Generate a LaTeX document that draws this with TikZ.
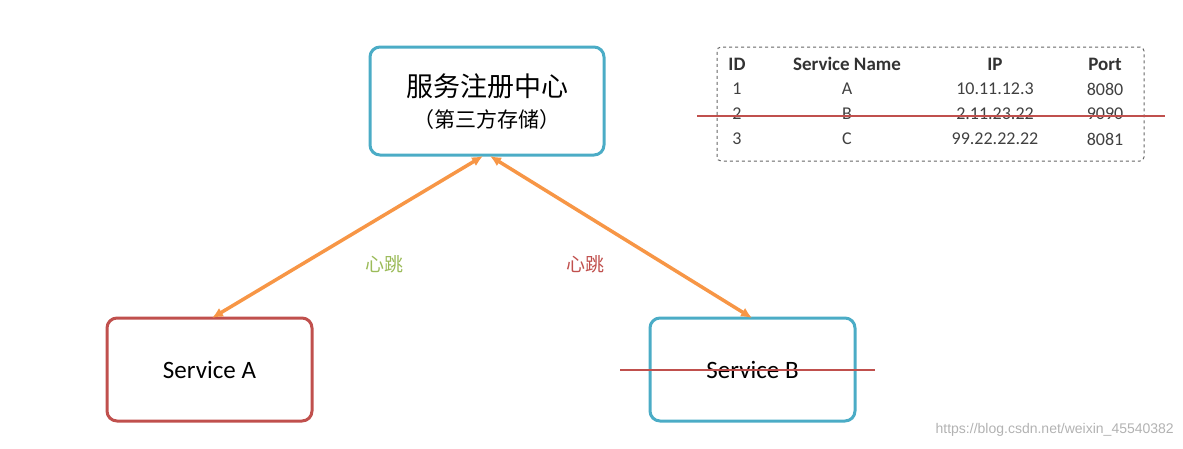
\documentclass[tikz,border=0pt]{standalone}
\usepackage{fontspec}
\setmainfont{Carlito}
\newfontfamily\cjk{Noto Sans CJK SC}
\newfontfamily\wmfont{Liberation Sans}
\usetikzlibrary{arrows.meta}
\begin{document}
\begin{tikzpicture}[x=1pt,y=-1pt,
  box/.style={draw,line width=3pt,rounded corners=10pt},
  arr/.style={line width=3.5pt,{Latex[length=11pt,width=10pt]}-{Latex[length=11pt,width=10pt]},color={rgb,255:red,247;green,150;blue,70}},
  strike/.style={draw={rgb,255:red,192;green,80;blue,77},line width=2pt},
  cell/.style={font=\fontsize{17}{18}\selectfont,text=black!75,inner sep=0pt}]
\definecolor{cy}{RGB}{75,172,198}
\definecolor{rd}{RGB}{192,80,77}
\definecolor{gr}{RGB}{155,187,89}
\useasboundingbox (0,0) rectangle (1183,448);
\node[box,draw=cy,minimum width=234pt,minimum height=108pt] (reg) at (487,101) {};
\node[font=\cjk\fontsize{27}{30}\selectfont] (t1) at (487,86) {服务注册中心};
\node[font=\cjk\fontsize{21}{24}\selectfont] (t2) at (487,120) {（第三方存储）};
\node[box,draw=rd,minimum width=205pt,minimum height=103pt] (a) at (209.5,369.5) {\fontsize{25}{28}\selectfont Service A};
\node[box,draw=cy,minimum width=205pt,minimum height=103pt] (b) at (752.5,369.5) {\fontsize{25}{28}\selectfont Service B};
\coordinate (r1) at (483,156);
\coordinate (r2) at (490,156);
\coordinate (a1) at (212,318);
\coordinate (b1) at (752,318);
\draw[arr] (r1) -- (a1);
\draw[arr] (r2) -- (b1);
\node[text=gr,font=\cjk\fontsize{19}{22}\selectfont] (l1) at (384,264) {心跳};
\node[text=rd,font=\cjk\fontsize{19}{22}\selectfont] (l2) at (585,264) {心跳};
\coordinate (sb1) at (620,370); \coordinate (sb2) at (875,370);
\draw[strike] (sb1) -- (sb2);
\node[draw=black!60,dashed,rounded corners=4pt,minimum width=427pt,minimum height=114pt,line width=1pt] (tab) at (930.5,104) {};
\foreach \x/\a/\b/\c/\d [count=\i] in {737/ID/1/2/3, 847/Service Name/A/B/C, 995/IP/10.11.12.3/2.11.23.22/99.22.22.22, 1105/Port/8080/9090/8081}{
  \node[cell,font=\bfseries\fontsize{19}{19}\selectfont,text=black!80] (h\i) at (\x,64) {\a};
  \node[cell,font=\fontsize{18}{18}\selectfont] (c1\i) at (\x,89) {\b};
  \node[cell,font=\fontsize{18}{18}\selectfont] (c2\i) at (\x,114) {\c};
  \node[cell,font=\fontsize{18}{18}\selectfont] (c3\i) at (\x,139) {\d};
}
\coordinate (st1) at (697,116); \coordinate (st2) at (1165,116);
\draw[strike] (st1) -- (st2);
\node[text=black!30,font=\wmfont\fontsize{14}{16}\selectfont,anchor=east,inner sep=0pt] (wm) at (1174,430) {https://blog.csdn.net/weixin\_45540382};
\end{tikzpicture}
\end{document}
